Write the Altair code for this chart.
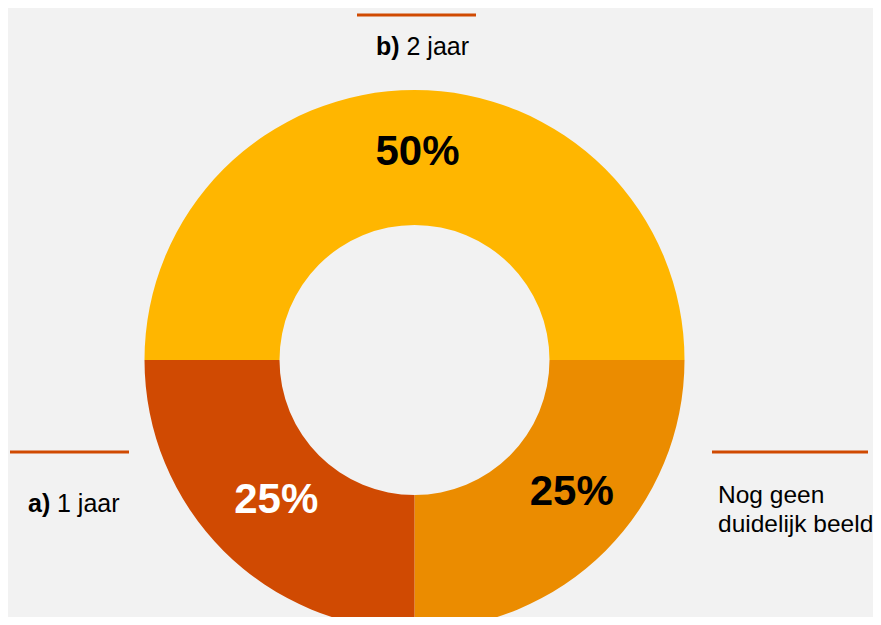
import math
import altair as alt
import pandas as pd

categories = ["Nog geen duidelijk beeld", "a) 1 jaar", "b) 2 jaar"]
values = [25, 25, 50]
labels = ["25%", "25%", "50%"]
slice_colors = ["#EB8C00", "#D04A02", "#FFB600"]
text_colors = ["#000000", "#FFFFFF", "#000000"]

df = pd.DataFrame({
    "cat": categories,
    "val": values,
    "label": labels,
    "idx": list(range(len(categories))),
})

FONT = "Liberation Sans"
CX, CY = 406.5, 352  # chart coords (page margin 8px)
ACCENT = "#D04A02"

theta_scale = alt.Scale(range=[math.pi / 2, math.pi / 2 + 2 * math.pi])
color_scale = alt.Scale(domain=categories, range=slice_colors)
tcolor_scale = alt.Scale(domain=categories, range=text_colors)

base = alt.Chart(df).encode(
    theta=alt.Theta("val:Q", stack=True, scale=theta_scale),
    order=alt.Order("idx:Q"),
)

arcs = base.mark_arc(radius=270, radius2=135).encode(
    x=alt.value(CX), y=alt.value(CY),
    color=alt.Color("cat:N", scale=color_scale, legend=None),
)

# fine label offsets per slice (pixels)
offsets = {categories[0]: (13, -12), categories[1]: (6, -4), categories[2]: (3, -4)}

pct_layers = []
for c in categories:
    dx, dy = offsets[c]
    pct_layers.append(
        base.mark_text(radius=204, font=FONT, fontSize=42, fontWeight="bold",
                       baseline="middle", align="center", dx=dx, dy=dy).encode(
            x=alt.value(CX), y=alt.value(CY),
            text="label:N",
            color=alt.Color("cat:N", scale=tcolor_scale, legend=None),
            opacity=alt.condition(alt.datum.cat == c, alt.value(1), alt.value(0)),
        )
    )

donut = alt.layer(arcs, *pct_layers).resolve_scale(color="independent")

one = pd.DataFrame({"k": [0]})

def rule(x1, x2, y):
    return alt.Chart(one).mark_rule(color=ACCENT, strokeWidth=3).encode(
        x=alt.value(x1), x2=alt.value(x2), y=alt.value(y))

def txt(s, x, y, bold=False, size=25):
    return alt.Chart(pd.DataFrame({"t": [s]})).mark_text(
        font=FONT, fontSize=size, fontWeight="bold" if bold else "normal",
        align="left", baseline="alphabetic", color="#000000").encode(
        x=alt.value(x), y=alt.value(y), text="t:N")

annot = [
    rule(349, 468, 7),
    txt("b)", 368, 47, True),
    txt("2 jaar", 398.5, 47),
    rule(2, 121, 444),
    txt("a)", 20, 504, True),
    txt("1 jaar", 49, 504),
    rule(704, 860, 444),
    txt("Nog geen", 710, 495, size=24.5),
    txt("duidelijk beeld", 710, 524, size=24.5),
]

chart = alt.layer(donut, *annot).properties(
    width=865, height=609,
    autosize=alt.AutoSizeParams(type="none"),
    padding=0,
    background="#F2F2F2",
).configure_view(stroke=None)

chart.save("out.html", embed_options={"renderer": "svg", "actions": False})
